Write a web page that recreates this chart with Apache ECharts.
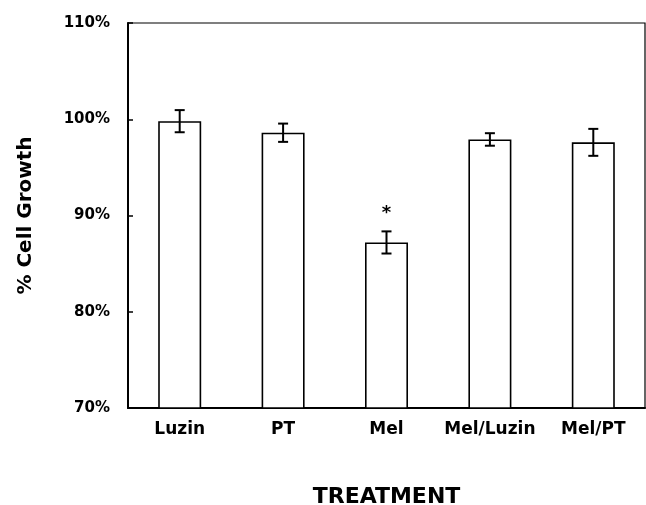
<!DOCTYPE html>
<html>
<head>
<meta charset="utf-8">
<script src="https://cdn.jsdelivr.net/npm/echarts@6/dist/echarts.min.js"></script>
<style>html,body{margin:0;padding:0;background:#fff}#c{width:646px;height:505px}</style>
</head>
<body>
<div id="c"></div>
<script>
const categories = ['Luzin', 'PT', 'Mel', 'Mel/Luzin', 'Mel/PT'];
const growth = [99.8, 98.6, 87.2, 97.9, 97.6];
const errors = [1.15, 0.95, 1.15, 0.65, 1.4];
const marks = ['', '', '*', '', ''];
const yTicks = [70, 80, 90, 100, 110];

const chart = echarts.init(document.getElementById('c'));
const font = 'DejaVu Sans';
chart.setOption({
  backgroundColor: '#fff',
  animation: false,
  grid: {left: 128, right: 1, top: 23, bottom: 97, outerBoundsMode: 'none', containLabel: false, show: true, borderColor: '#000', borderWidth: 1.2, backgroundColor: 'transparent'},
  xAxis: {
    type: 'category',
    data: categories,
    name: 'TREATMENT',
    nameLocation: 'middle',
    nameGap: 78,
    nameTextStyle: {fontFamily: font, fontWeight: 'bold', fontSize: 22, color: '#000'},
    axisLine: {lineStyle: {color: '#000', width: 2}},
    axisTick: {show: false},
    axisLabel: {interval: 0, fontFamily: font, fontWeight: 'bold', fontSize: 17, color: '#000', margin: 13}
  },
  yAxis: {
    type: 'value',
    min: yTicks[0],
    max: yTicks[yTicks.length - 1],
    interval: 10,
    name: '% Cell Growth',
    nameLocation: 'middle',
    nameGap: 92,
    nameTextStyle: {fontFamily: font, fontWeight: 'bold', fontSize: 20, color: '#000'},
    axisLine: {show: true, lineStyle: {color: '#000', width: 2}},
    axisTick: {show: true, inside: true, length: 5, lineStyle: {color: '#000', width: 1.5}},
    splitLine: {show: false},
    axisLabel: {fontFamily: font, fontWeight: 'bold', fontSize: 15, color: '#000', margin: 18, formatter: v => v + '%'}
  },
  series: [
    {
      type: 'bar',
      data: growth,
      barWidth: 43,
      itemStyle: {color: '#fff', borderColor: '#000', borderWidth: 1.6},
      z: 2
    },
    {
      type: 'custom',
      z: 3,
      data: growth.map((g, i) => [i, g, errors[i], marks[i]]),
      renderItem: function (params, api) {
        const i = api.value(0), m = api.value(1), e = api.value(2);
        const hi = api.coord([i, m + e]);
        const lo = api.coord([i, m - e]);
        const x = hi[0];
        const w = 5;
        const st = {stroke: '#000', lineWidth: 2};
        const children = [
          {type: 'line', shape: {x1: x, y1: hi[1], x2: x, y2: lo[1]}, style: st},
          {type: 'line', shape: {x1: x - w, y1: hi[1], x2: x + w, y2: hi[1]}, style: st},
          {type: 'line', shape: {x1: x - w, y1: lo[1], x2: x + w, y2: lo[1]}, style: st}
        ];
        const mk = marks[params.dataIndex];
        if (mk) {
          children.push({type: 'text', style: {text: mk, x: x, y: hi[1] - 9, align: 'center', verticalAlign: 'bottom', font: 'bold 18px "DejaVu Sans"', fill: '#000'}});
        }
        return {type: 'group', children: children};
      }
    }
  ]
});
</script>
</body>
</html>
